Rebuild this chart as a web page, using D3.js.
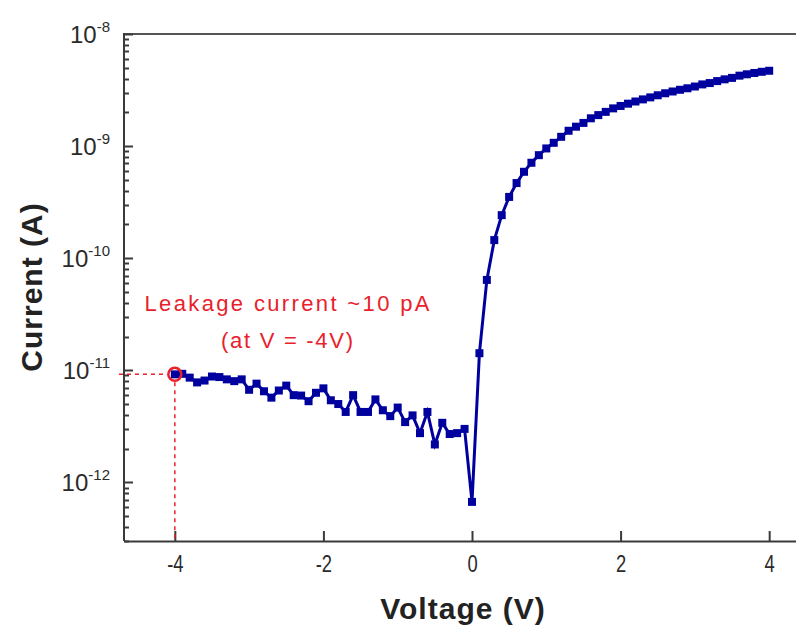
<!DOCTYPE html>
<html>
<head>
<meta charset="utf-8">
<script src="https://cdn.jsdelivr.net/npm/d3@7"></script>
<style>
  body { margin: 0; background: #fff; }
  svg { display: block; }
</style>
</head>
<body>
<svg id="chart" width="796" height="632"></svg>
<script>
// measured I-V sweep (V in volts, I in amps)
var voltage = [-4.0, -3.9, -3.8, -3.7, -3.6, -3.5, -3.4, -3.3, -3.2, -3.1,
               -3.0, -2.9, -2.8, -2.7, -2.6, -2.5, -2.4, -2.3, -2.2, -2.1,
               -2.0, -1.9, -1.8, -1.7, -1.6, -1.5, -1.4, -1.3, -1.2, -1.1,
               -1.0, -0.9, -0.8, -0.7, -0.6, -0.5, -0.4, -0.3, -0.2, -0.1,
                0.0,
                0.1, 0.2, 0.3, 0.4, 0.5, 0.6, 0.7, 0.8, 0.9, 1.0,
                1.1, 1.2, 1.3, 1.4, 1.5, 1.6, 1.7, 1.8, 1.9, 2.0,
                2.1, 2.2, 2.3, 2.4, 2.5, 2.6, 2.7, 2.8, 2.9, 3.0,
                3.1, 3.2, 3.3, 3.4, 3.5, 3.6, 3.7, 3.8, 3.9, 4.0];

var current = [9.2e-12, 9.3e-12, 8.6e-12, 7.8e-12, 8.1e-12, 8.8e-12, 8.7e-12, 8.3e-12, 8.0e-12, 8.3e-12,
               6.7e-12, 7.6e-12, 6.5e-12, 5.7e-12, 6.6e-12, 7.3e-12, 6.0e-12, 5.95e-12, 5.3e-12, 6.3e-12,
               6.9e-12, 5.4e-12, 5.0e-12, 4.25e-12, 6.0e-12, 4.25e-12, 4.25e-12, 5.5e-12, 4.4e-12, 3.9e-12,
               4.65e-12, 3.45e-12, 3.96e-12, 2.75e-12, 4.25e-12, 2.18e-12, 3.4e-12, 2.7e-12, 2.75e-12, 3.0e-12,
               6.7e-13,
               1.42e-11, 6.4e-11, 1.45e-10, 2.42e-10, 3.52e-10, 4.68e-10, 5.9e-10, 7.1e-10, 8.3e-10, 9.53e-10,
               1.07e-9, 1.21e-9, 1.37e-9, 1.49e-9, 1.61e-9, 1.77e-9, 1.89e-9, 2.02e-9, 2.17e-9, 2.28e-9,
               2.39e-9, 2.50e-9, 2.61e-9, 2.72e-9, 2.84e-9, 2.96e-9, 3.07e-9, 3.18e-9, 3.28e-9, 3.40e-9,
               3.55e-9, 3.65e-9, 3.80e-9, 3.94e-9, 4.06e-9, 4.25e-9, 4.37e-9, 4.49e-9, 4.60e-9, 4.70e-9];

var xTicks = [-4, -2, 0, 2, 4];
var yMajor = [1e-12, 1e-11, 1e-10, 1e-9, 1e-8];
var yExp = ["-12", "-11", "-10", "-9", "-8"];

// the highlighted leakage point
var markV = -4.0, markI = 9.2e-12;
var noteLines = ["Leakage current ~10 pA", "(at V = -4V)"];
var noteWidths = [285, 132];

var data = voltage.map(function(v, i) { return {v: v, i: current[i]}; });

var svg = d3.select("#chart");
// plot box ("top" is a window global, so prefix these)
var pLeft = 124, pRight = 796, pTop = 34, pBottom = 541;

var xScale = d3.scaleLinear().domain([-4.684, 4.361]).range([pLeft, pRight]);
var yScale = d3.scaleLog().domain([3e-13, 1e-8]).range([pBottom, pTop]);

// minor ticks 2..9 of each decade inside the domain
var yMinor = [];
[1e-13, 1e-12, 1e-11, 1e-10, 1e-9].forEach(function(d) {
  for (var k = 2; k <= 9; k++) {
    var t = d * k;
    if (t >= 3e-13 && t < 1e-8) yMinor.push(t);
  }
});

var axisColor = "#3a3a3a";

// top frame line
svg.append("line")
  .attr("x1", pLeft).attr("x2", pRight)
  .attr("y1", pTop).attr("y2", pTop)
  .attr("stroke", "#555").attr("stroke-width", 2);

// y axis line
svg.append("line")
  .attr("x1", pLeft).attr("x2", pLeft)
  .attr("y1", pTop - 1).attr("y2", pBottom)
  .attr("stroke", axisColor).attr("stroke-width", 2);

// y ticks pointing inward (minor short, major long)
svg.selectAll("line.yminor")
  .data(yMinor)
  .enter().append("line")
  .attr("class", "yminor")
  .attr("x1", pLeft).attr("x2", pLeft + 5)
  .attr("y1", function(d) { return Math.round(yScale(d)) + 0.5; })
  .attr("y2", function(d) { return Math.round(yScale(d)) + 0.5; })
  .attr("stroke", axisColor).attr("stroke-width", 2);

svg.selectAll("line.ymajor")
  .data(yMajor)
  .enter().append("line")
  .attr("class", "ymajor")
  .attr("x1", pLeft).attr("x2", pLeft + 9)
  .attr("y1", function(d) { return Math.round(yScale(d)) + 0.5; })
  .attr("y2", function(d) { return Math.round(yScale(d)) + 0.5; })
  .attr("stroke", axisColor).attr("stroke-width", 2);

// y tick labels as 10^n
yMajor.forEach(function(d, i) {
  var t = svg.append("text")
    .attr("x", 110)
    .attr("y", yScale(d) + 9)
    .attr("text-anchor", "end")
    .attr("fill", "#2b2b2b")
    .style("font-family", "'Liberation Sans', Arial, sans-serif")
    .style("font-size", "24px");
  t.append("tspan").text("10");
  t.append("tspan").attr("dy", -11).style("font-size", "15px").text(yExp[i]);
});

// x axis
var xAx = svg.append("g")
  .attr("transform", "translate(0," + pBottom + ")")
  .call(d3.axisBottom(xScale).tickValues(xTicks).tickSize(-10).tickSizeOuter(0).tickPadding(15)
        .tickFormat(function(d) { return d; }));
xAx.select(".domain").attr("stroke", axisColor).attr("stroke-width", 2);
xAx.selectAll("line").attr("stroke", axisColor).attr("stroke-width", 2);
xAx.selectAll("text")
  .attr("fill", "#2b2b2b")
  .attr("transform", "scale(0.8,1)")
  .style("font-family", "'Liberation Sans', Arial, sans-serif")
  .style("font-size", "23px");

// axis titles
svg.append("text")
  .attr("x", 463).attr("y", 619)
  .attr("text-anchor", "middle")
  .attr("fill", "#222")
  .style("font-family", "'Liberation Sans', Arial, sans-serif")
  .style("font-size", "30px").style("font-weight", "bold")
  .style("letter-spacing", "1px")
  .text("Voltage (V)");

svg.append("text")
  .attr("transform", "translate(42,287) rotate(-90)")
  .attr("text-anchor", "middle")
  .attr("fill", "#222")
  .style("font-family", "'Liberation Sans', Arial, sans-serif")
  .style("font-size", "30px").style("font-weight", "bold")
  .style("letter-spacing", "1px")
  .text("Current (A)");

// dashed guide lines to the leakage point
var red = "#e8212b";
svg.append("line")
  .attr("x1", pLeft - 5).attr("x2", xScale(markV) - 8)
  .attr("y1", yScale(markI)).attr("y2", yScale(markI))
  .attr("stroke", red).attr("stroke-width", 1.5).attr("stroke-dasharray", "4,4");
svg.append("line")
  .attr("x1", xScale(markV)).attr("x2", xScale(markV))
  .attr("y1", yScale(markI) + 8).attr("y2", pBottom)
  .attr("stroke", red).attr("stroke-width", 1.5).attr("stroke-dasharray", "4,4");

// I-V curve
var line = d3.line()
  .x(function(d) { return xScale(d.v); })
  .y(function(d) { return yScale(d.i); });

var blue = "#00009e";
svg.append("path")
  .datum(data)
  .attr("d", line)
  .attr("fill", "none")
  .attr("stroke", blue)
  .attr("stroke-width", 3);

svg.selectAll("rect.pt")
  .data(data)
  .enter().append("rect")
  .attr("class", "pt")
  .attr("x", function(d) { return xScale(d.v) - 4; })
  .attr("y", function(d) { return yScale(d.i) - 4; })
  .attr("width", 8).attr("height", 8)
  .attr("fill", blue);

// red circle on the leakage point
svg.append("circle")
  .attr("cx", xScale(markV)).attr("cy", yScale(markI))
  .attr("r", 6.5)
  .attr("fill", "none")
  .attr("stroke", red).attr("stroke-width", 2.5);

// annotation
svg.selectAll("text.note")
  .data(noteLines)
  .enter().append("text")
  .attr("class", "note")
  .attr("x", 287)
  .attr("y", function(d, i) { return 311 + i * 37; })
  .attr("text-anchor", "middle")
  .attr("textLength", function(d, i) { return noteWidths[i]; })
  .attr("lengthAdjust", "spacing")
  .attr("fill", red)
  .style("font-family", "'Liberation Sans', Arial, sans-serif")
  .style("font-size", "22px")
  .text(function(d) { return d; });
</script>
</body>
</html>
